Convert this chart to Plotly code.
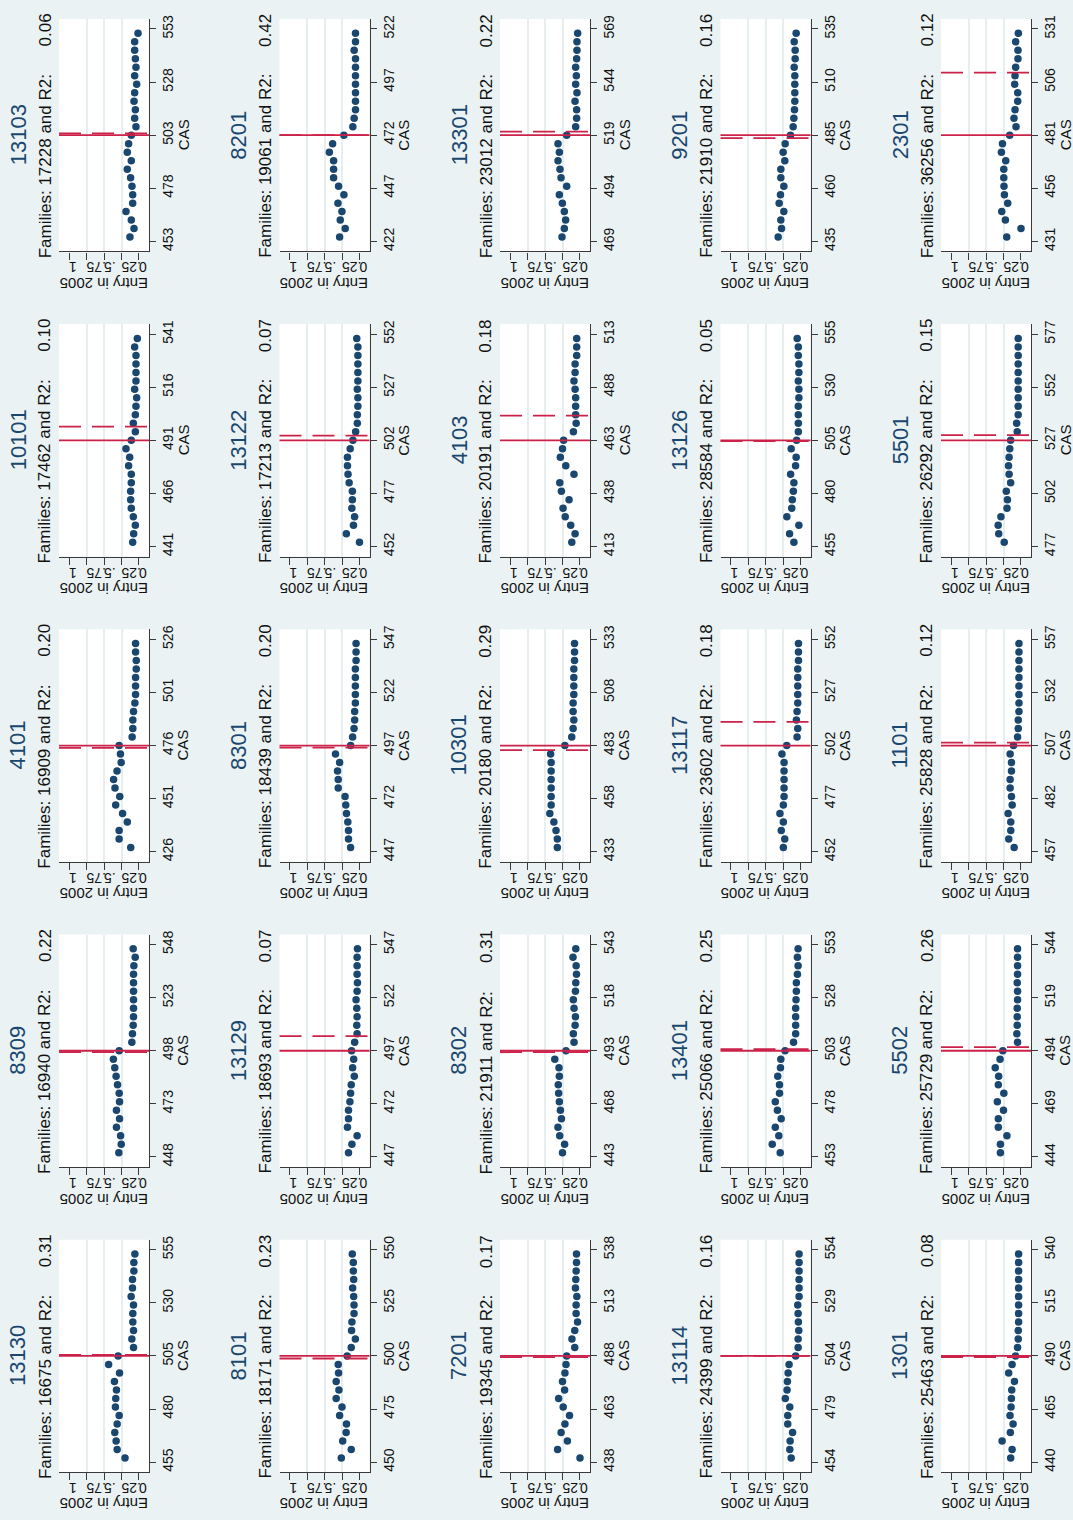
import plotly.graph_objects as go

# ---------------------------------------------------------------- data
PANEL_IDS = ["13103", "8201", "13301", "9201", "2301",
             "10101", "13122", "4103", "13126", "5501",
             "4101", "8301", "10301", "13117", "1101",
             "8309", "13129", "8302", "13401", "5502",
             "13130", "8101", "7201", "13114", "1301"]

FAMILIES = [17228, 19061, 23012, 21910, 36256,
            17462, 17213, 20191, 28584, 26292,
            16909, 18439, 20180, 23602, 25828,
            16940, 18693, 21911, 25066, 25729,
            16675, 18171, 19345, 24399, 25463]

R2 = [0.06, 0.42, 0.22, 0.16, 0.12,
      0.10, 0.07, 0.18, 0.05, 0.15,
      0.20, 0.20, 0.29, 0.18, 0.12,
      0.22, 0.07, 0.31, 0.25, 0.26,
      0.31, 0.23, 0.17, 0.16, 0.08]

# admission cutoff score (solid line) and alternative threshold (dashed line)
CUTOFF = [503, 472, 519, 485, 481,
          491, 502, 463, 505, 527,
          476, 497, 483, 502, 507,
          498, 497, 493, 503, 494,
          505, 500, 488, 504, 490]

THRESHOLD = [503.8, 472.0, 520.7, 483.6, 510.4,
             497.5, 504.2, 474.6, 504.6, 529.5,
             474.9, 496.0, 480.8, 513.1, 508.4,
             497.3, 503.9, 492.3, 503.8, 495.7,
             505.5, 498.8, 487.4, 504.0, 489.5]

# CAS bins relative to the cutoff
BIN_OFFSET = [-48, -44, -40, -36, -32, -28, -24, -20, -16, -12, -8, -4, 0,
              4, 8, 12, 16, 20, 24, 28, 32, 36, 40, 44, 48]

TICK_OFFSET = [-50, -25, 0, 25, 50]
ENTRY_TICKS = [0, 0.25, 0.5, 0.75, 1]
ENTRY_TICKTEXT = ["0", ".25", ".5", ".75", "1"]

# share of families entering in 2005, per CAS bin (low to high CAS)
entry_13103 = [0.129, 0.071, 0.110, 0.186, 0.090, 0.090, 0.100, 0.120, 0.167, 0.110, 0.167, 0.148, 0.110,
               0.043, 0.062, 0.052, 0.071, 0.062, 0.033, 0.062, 0.043, 0.052, 0.062, 0.062, 0.014]
entry_8201 = [0.284, 0.204, 0.275, 0.251, 0.308, 0.223, 0.299, 0.370, 0.370, 0.370, 0.431, 0.384, 0.223,
              0.095, 0.076, 0.057, 0.057, 0.057, 0.057, 0.057, 0.057, 0.057, 0.076, 0.057, 0.057]
entry_13301 = [0.257, 0.224, 0.205, 0.224, 0.252, 0.295, 0.190, 0.271, 0.286, 0.314, 0.295, 0.314, 0.190,
               0.062, 0.048, 0.048, 0.071, 0.043, 0.062, 0.052, 0.062, 0.048, 0.043, 0.043, 0.033]
entry_9201 = [0.319, 0.271, 0.281, 0.238, 0.305, 0.286, 0.238, 0.281, 0.281, 0.224, 0.248, 0.219, 0.143,
              0.105, 0.095, 0.086, 0.081, 0.081, 0.081, 0.081, 0.090, 0.076, 0.076, 0.090, 0.062]
entry_2301 = [0.204, 0.000, 0.223, 0.275, 0.190, 0.237, 0.243, 0.246, 0.246, 0.218, 0.280, 0.265, 0.161,
              0.071, 0.100, 0.085, 0.047, 0.047, 0.090, 0.085, 0.076, 0.043, 0.043, 0.076, 0.038]
entry_10101 = [0.090, 0.076, 0.052, 0.081, 0.110, 0.119, 0.119, 0.110, 0.110, 0.148, 0.133, 0.186, 0.110,
               0.052, 0.081, 0.052, 0.043, 0.033, 0.062, 0.043, 0.043, 0.043, 0.043, 0.062, 0.024]
entry_13122 = [0.000, 0.188, 0.086, 0.070, 0.109, 0.102, 0.102, 0.148, 0.164, 0.172, 0.172, 0.133, 0.094,
               0.055, 0.031, 0.031, 0.023, 0.023, 0.031, 0.023, 0.023, 0.023, 0.023, 0.023, 0.039]
entry_4103 = [0.117, 0.070, 0.133, 0.211, 0.242, 0.156, 0.266, 0.289, 0.086, 0.203, 0.281, 0.250, 0.234,
              0.094, 0.055, 0.062, 0.062, 0.062, 0.070, 0.086, 0.070, 0.070, 0.047, 0.047, 0.047]
entry_13126 = [0.094, 0.156, 0.023, 0.195, 0.125, 0.117, 0.102, 0.094, 0.141, 0.070, 0.062, 0.133, 0.055,
               0.031, 0.031, 0.031, 0.031, 0.023, 0.023, 0.031, 0.023, 0.023, 0.031, 0.031, 0.047]
entry_5501 = [0.240, 0.318, 0.326, 0.287, 0.200, 0.194, 0.210, 0.148, 0.170, 0.178, 0.170, 0.160, 0.148,
              0.054, 0.062, 0.040, 0.040, 0.040, 0.040, 0.040, 0.040, 0.040, 0.040, 0.040, 0.040]
entry_4101 = [0.118, 0.284, 0.284, 0.167, 0.235, 0.333, 0.275, 0.343, 0.363, 0.314, 0.255, 0.265, 0.284,
              0.098, 0.088, 0.088, 0.078, 0.059, 0.049, 0.049, 0.049, 0.039, 0.039, 0.049, 0.049]
entry_8301 = [0.127, 0.157, 0.157, 0.167, 0.186, 0.196, 0.206, 0.304, 0.304, 0.314, 0.284, 0.343, 0.127,
              0.098, 0.078, 0.069, 0.069, 0.059, 0.059, 0.059, 0.059, 0.059, 0.049, 0.049, 0.049]
entry_10301 = [0.324, 0.324, 0.343, 0.373, 0.431, 0.412, 0.412, 0.412, 0.412, 0.412, 0.412, 0.420, 0.216,
               0.118, 0.098, 0.088, 0.098, 0.098, 0.088, 0.088, 0.088, 0.088, 0.078, 0.078, 0.078]
entry_13117 = [0.245, 0.225, 0.275, 0.245, 0.294, 0.245, 0.235, 0.235, 0.235, 0.235, 0.235, 0.265, 0.196,
               0.049, 0.039, 0.059, 0.049, 0.039, 0.039, 0.039, 0.039, 0.039, 0.029, 0.029, 0.029]
entry_1101 = [0.097, 0.175, 0.146, 0.146, 0.184, 0.126, 0.136, 0.155, 0.155, 0.136, 0.136, 0.155, 0.107,
              0.049, 0.039, 0.039, 0.029, 0.029, 0.029, 0.029, 0.029, 0.029, 0.029, 0.029, 0.029]
entry_8309 = [0.288, 0.254, 0.263, 0.322, 0.278, 0.322, 0.278, 0.283, 0.307, 0.327, 0.346, 0.366, 0.283,
              0.102, 0.093, 0.083, 0.078, 0.078, 0.078, 0.078, 0.078, 0.078, 0.073, 0.054, 0.083]
entry_13129 = [0.157, 0.108, 0.034, 0.172, 0.157, 0.157, 0.137, 0.127, 0.118, 0.074, 0.098, 0.083, 0.113,
               0.069, 0.034, 0.039, 0.034, 0.039, 0.049, 0.034, 0.029, 0.034, 0.034, 0.034, 0.029]
entry_8302 = [0.250, 0.220, 0.290, 0.315, 0.265, 0.280, 0.295, 0.305, 0.310, 0.295, 0.300, 0.360, 0.200,
              0.085, 0.095, 0.070, 0.065, 0.085, 0.095, 0.065, 0.060, 0.050, 0.055, 0.100, 0.060]
entry_13401 = [0.290, 0.404, 0.310, 0.360, 0.276, 0.330, 0.360, 0.300, 0.300, 0.325, 0.286, 0.281, 0.220,
               0.099, 0.069, 0.069, 0.069, 0.069, 0.064, 0.059, 0.059, 0.044, 0.034, 0.044, 0.034]
entry_5502 = [0.294, 0.294, 0.201, 0.324, 0.324, 0.250, 0.338, 0.245, 0.324, 0.319, 0.368, 0.299, 0.260,
              0.049, 0.059, 0.054, 0.054, 0.054, 0.049, 0.049, 0.054, 0.049, 0.049, 0.049, 0.049]
entry_13130 = [0.200, 0.312, 0.327, 0.346, 0.312, 0.283, 0.337, 0.332, 0.322, 0.351, 0.278, 0.434, 0.298,
               0.078, 0.102, 0.078, 0.088, 0.088, 0.078, 0.112, 0.093, 0.093, 0.073, 0.073, 0.059]
entry_8101 = [0.260, 0.118, 0.240, 0.191, 0.186, 0.284, 0.250, 0.333, 0.294, 0.333, 0.299, 0.304, 0.176,
              0.118, 0.059, 0.113, 0.108, 0.078, 0.078, 0.083, 0.098, 0.083, 0.088, 0.088, 0.103]
entry_7201 = [0.000, 0.320, 0.180, 0.270, 0.215, 0.150, 0.240, 0.305, 0.220, 0.250, 0.215, 0.200, 0.190,
              0.075, 0.115, 0.075, 0.035, 0.055, 0.055, 0.045, 0.065, 0.060, 0.055, 0.050, 0.050]
entry_13114 = [0.133, 0.153, 0.148, 0.113, 0.182, 0.182, 0.153, 0.217, 0.192, 0.187, 0.177, 0.163, 0.069,
               0.034, 0.034, 0.025, 0.030, 0.034, 0.039, 0.020, 0.020, 0.020, 0.020, 0.020, 0.020]
entry_1301 = [0.147, 0.127, 0.270, 0.152, 0.113, 0.157, 0.142, 0.137, 0.132, 0.093, 0.176, 0.127, 0.078,
              0.049, 0.039, 0.039, 0.034, 0.034, 0.034, 0.034, 0.034, 0.034, 0.034, 0.034, 0.034]

ENTRY = [entry_13103, entry_8201, entry_13301, entry_9201, entry_2301,
         entry_10101, entry_13122, entry_4103, entry_13126, entry_5501,
         entry_4101, entry_8301, entry_10301, entry_13117, entry_1101,
         entry_8309, entry_13129, entry_8302, entry_13401, entry_5502,
         entry_13130, entry_8101, entry_7201, entry_13114, entry_1301]

# ---------------------------------------------------------------- style
FIG_W, FIG_H = 1073, 1520
COL_LEFT = [59, 279.5, 500, 720.5, 941]     # plot-area left edge (px)
ROW_TOP = [15, 321, 627, 933, 1239]         # plot-area top edge (px)
PW, PH = 90, 233                            # plot-area size (px)
ENTRY_RANGE = [1.143, -0.143]
CAS_PAD = 54.7

BG = "#eaf2f3"
NAVY = "#1a476f"
RED = "#cc2149"
AXIS = "#3a3a3a"
GRID = "#e6eef0"
FONT = "Liberation Sans, Arial, sans-serif"

fig = go.Figure()
layout = {}
shapes = []
annotations = []


def px_x(p):
    return p / FIG_W


def px_y(p):
    return 1 - p / FIG_H


for i, pid in enumerate(PANEL_IDS):
    r, c = divmod(i, 5)
    L, T = COL_LEFT[c], ROW_TOP[r]
    n = "" if i == 0 else str(i + 1)
    cut = CUTOFF[i]
    cas = [cut + o for o in BIN_OFFSET]

    fig.add_trace(go.Scatter(
        x=ENTRY[i], y=cas, mode="markers",
        marker=dict(color=NAVY, size=7.5, line=dict(width=0)),
        xaxis="x" + n, yaxis="y" + n, showlegend=False, hoverinfo="skip"))

    layout["xaxis" + n] = dict(
        domain=[px_x(L), px_x(L + PW)], anchor="y" + n,
        range=ENTRY_RANGE, tickvals=ENTRY_TICKS, ticktext=ENTRY_TICKTEXT,
        tickangle=180, ticks="outside", ticklen=7, tickwidth=1.2, tickcolor=AXIS,
        tickfont=dict(size=14, color="#111", family=FONT),
        showline=True, linecolor=AXIS, linewidth=1.4, mirror=False,
        showgrid=False, zeroline=False, fixedrange=True,
        minor=dict(tickvals=[0.25, 0.5, 0.75], showgrid=True,
                   gridcolor=GRID, gridwidth=1.5, ticks=""))
    layout["yaxis" + n] = dict(
        domain=[px_y(T + PH), px_y(T)], anchor="x" + n, side="right",
        range=[cut - CAS_PAD, cut + CAS_PAD],
        tickvals=[cut + o for o in TICK_OFFSET],
        tickangle=-90, ticks="outside", ticklen=6, tickwidth=1.2, tickcolor=AXIS,
        tickfont=dict(size=14, color="#111", family=FONT),
        showline=True, linecolor=AXIS, linewidth=1.4,
        showgrid=False, zeroline=False, fixedrange=True)

    # cutoff (solid) and threshold (dashed) reference lines
    shapes.append(dict(type="line", xref="x" + n + " domain", yref="y" + n,
                       x0=0, x1=1, y0=cut, y1=cut,
                       line=dict(color=RED, width=1.8)))
    shapes.append(dict(type="line", xref="x" + n + " domain", yref="y" + n,
                       x0=0, x1=1, y0=THRESHOLD[i], y1=THRESHOLD[i],
                       line=dict(color=RED, width=1.8, dash="22px,11px")))

    # panel title and subtitle
    annotations.append(dict(
        text=pid, xref="paper", yref="paper",
        x=px_x(L - 41), y=px_y(T + PH / 2), xanchor="center", yanchor="middle",
        textangle=-90, showarrow=False,
        font=dict(size=22, color=NAVY, family=FONT)))
    annotations.append(dict(
        text=f"Families: {FAMILIES[i]} and R2:", xref="paper", yref="paper",
        x=px_x(L - 14), y=px_y(T + 242), xanchor="center", yanchor="bottom",
        textangle=-90, showarrow=False,
        font=dict(size=17, color="#111", family=FONT)))
    annotations.append(dict(
        text=f"{R2[i]:.2f}", xref="paper", yref="paper",
        x=px_x(L - 14), y=px_y(T - 7), xanchor="center", yanchor="top",
        textangle=-90, showarrow=False,
        font=dict(size=17, color="#111", family=FONT)))

    # axis titles
    annotations.append(dict(
        text="CAS", xref="paper", yref="paper",
        x=px_x(L + PW + 34), y=px_y(T + PH / 2), xanchor="center", yanchor="middle",
        textangle=-90, showarrow=False,
        font=dict(size=15, color="#111", family=FONT)))
    annotations.append(dict(
        text="Entry in 2005", xref="paper", yref="paper",
        x=px_x(L + PW / 2), y=px_y(T + 265), xanchor="center", yanchor="middle",
        textangle=180, showarrow=False,
        font=dict(size=15, color="#111", family=FONT)))

fig.update_layout(
    width=FIG_W, height=FIG_H,
    margin=dict(l=0, r=0, t=0, b=0, pad=0),
    paper_bgcolor=BG, plot_bgcolor="white",
    font=dict(family=FONT, color="#111"),
    shapes=shapes, annotations=annotations,
    **layout)

fig.write_html("out.html")
